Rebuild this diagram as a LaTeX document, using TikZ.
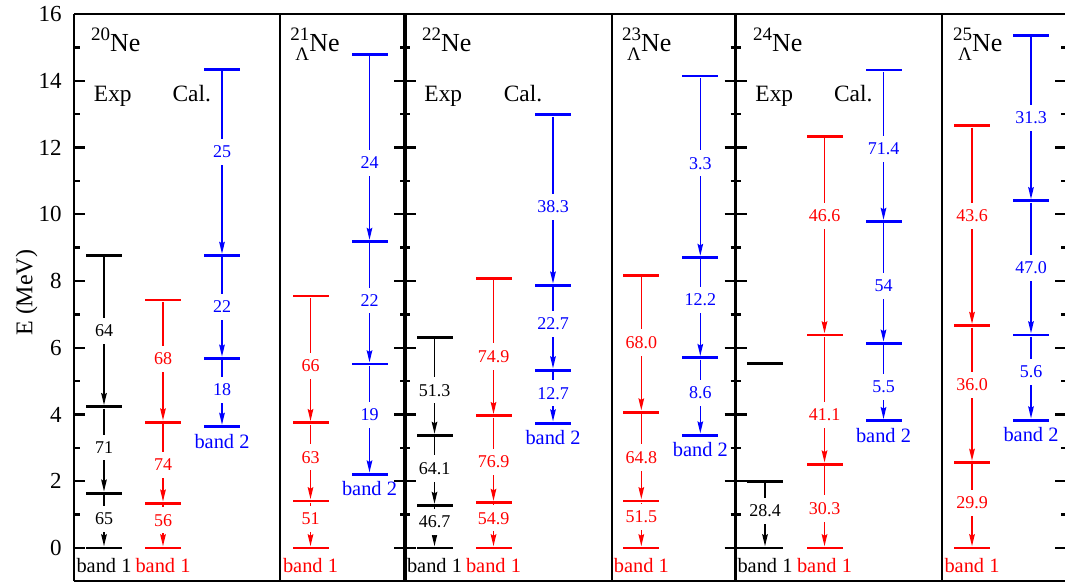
\documentclass[tikz,border=0pt]{standalone}
\usepackage{fontspec}
\setmainfont{Liberation Serif}
\usetikzlibrary{arrows.meta,positioning}

\begin{document}
\begin{tikzpicture}[x=0.5pt, y=16.6875pt,
    lvl/.style = {fill, inner sep=0, minimum width=18pt, minimum height=1.4pt},
    tr/.style = {line width=0.75pt, -{Stealth[length=6pt, width=2.8pt, inset=0.8pt]}},
    num/.style = {fill=white, inner xsep=1pt, inner ysep=3.5pt, font=\fontsize{9}{10}\selectfont},
    bnd/.style = {inner sep=0, font=\fontsize{10.2}{12}\selectfont},
    hd/.style = {anchor=base, inner sep=0, font=\fontsize{11.7}{13}\selectfont},
    nuc/.style = {anchor=base west, inner sep=0, font=\fontsize{13}{15}\selectfont},
    tk/.style = {line width=1.2pt}]
        \useasboundingbox (0,-1.0487) rectangle (1065,16.4195);

        % frame and panels
        \draw[line width=1pt] (74,16) -- (1070,16);
        \draw[line width=1pt] (74,-1) -- (1070,-1);
        \draw[line width=1.3pt] (74,-1) -- (74,16);
        \draw[line width=1.7pt] (405,-1) -- (405,16);
        \draw[line width=1.7pt] (735.7,-1) -- (735.7,16);
        \draw[line width=0.6pt] (280,-1) -- (280,16);
        \draw[line width=0.6pt] (612,-1) -- (612,16);
        \draw[line width=0.6pt] (942,-1) -- (942,16);
        \foreach \e in {0,2,...,16} {
            \draw[tk] (74,\e) -- (85,\e);
            \draw[tk] (394,\e) -- (416,\e);
            \draw[tk] (724.7,\e) -- (746.7,\e);
            \draw[tk] (1055,\e) -- (1070,\e);
            \node[anchor=east, inner sep=0, font=\fontsize{11.5}{13}\selectfont] (y\e) at (62,\e) {\e};
        }
        \foreach \e in {1,3,...,15} {
            \draw[tk] (74,\e) -- (80,\e);
            \draw[tk] (400,\e) -- (410,\e);
            \draw[tk] (730.7,\e) -- (740.7,\e);
            \draw[tk] (1061,\e) -- (1070,\e);
        }
        \node[rotate=90, font=\fontsize{12}{14}\selectfont] (ylab) at (26.5,7.65) {E (MeV)};

        % headings
        \node[nuc] (t20) at (90.7,14.87) {{\fontsize{9.5}{10}\selectfont\raisebox{5.8pt}{20}}Ne};
        \node[nuc] (t21) at (290,14.87) {{\fontsize{9.5}{10}\selectfont\rlap{\hspace{2.5pt}\raisebox{-4.15pt}{Λ}}\raisebox{5.8pt}{21}}Ne};
        \node[nuc] (t22) at (421.7,14.87) {{\fontsize{9.5}{10}\selectfont\raisebox{5.8pt}{22}}Ne};
        \node[nuc] (t23) at (621.7,14.87) {{\fontsize{9.5}{10}\selectfont\rlap{\hspace{2.5pt}\raisebox{-4.15pt}{Λ}}\raisebox{5.8pt}{23}}Ne};
        \node[nuc] (t24) at (752.7,14.87) {{\fontsize{9.5}{10}\selectfont\raisebox{5.8pt}{24}}Ne};
        \node[nuc] (t25) at (952.7,14.87) {{\fontsize{9.5}{10}\selectfont\rlap{\hspace{2.5pt}\raisebox{-4.15pt}{Λ}}\raisebox{5.8pt}{25}}Ne};
        \node[hd] (x20) at (112.8,13.37) {Exp};
        \node[hd] (c20) at (191.8,13.37) {Cal.};
        \node[hd] (x22) at (443.3,13.37) {Exp};
        \node[hd] (c22) at (523,13.37) {Cal.};
        \node[hd] (x24) at (774.3,13.37) {Exp};
        \node[hd] (c24) at (853.3,13.37) {Cal.};

        % 20Ne
        \node[lvl] (e20-0) at (104,0) {};
        \node[lvl] (e20-1) at (104,1.64) {};
        \node[lvl] (e20-2) at (104,4.23) {};
        \node[lvl] (e20-3) at (104,8.77) {};
        \node[lvl, red] (r20-0) at (163,0) {};
        \node[lvl, red] (r20-1) at (163,1.34) {};
        \node[lvl, red] (r20-2) at (163,3.77) {};
        \node[lvl, red] (r20-3) at (163,7.43) {};
        \node[lvl, blue] (b20-0) at (222,3.64) {};
        \node[lvl, blue] (b20-1) at (222,5.68) {};
        \node[lvl, blue] (b20-2) at (222,8.76) {};
        \node[lvl, blue] (b20-3) at (222,14.34) {};
        \draw[tr] (e20-3) -- node[num, pos=.5] {64} (e20-2);
        \draw[tr] (e20-2) -- node[num, pos=.47] {71} (e20-1);
        \draw[tr] (e20-1) -- node[num, pos=.46] {65} (e20-0);
        \draw[tr, red] (r20-3) -- node[num, pos=.48] {68} (r20-2);
        \draw[tr, red] (r20-2) -- node[num, pos=.53] {74} (r20-1);
        \draw[tr, red] (r20-1) -- node[num, pos=.37] {56} (r20-0);
        \draw[tr, blue] (b20-3) -- node[num, pos=.44] {25} (b20-2);
        \draw[tr, blue] (b20-2) -- node[num, pos=.5] {22} (b20-1);
        \draw[tr, blue] (b20-1) -- node[num, pos=.46] {18} (b20-0);
        \node[bnd, below=4.3pt of e20-0] (n20) {band 1};
        \node[bnd, red, below=4.3pt of r20-0] (m20) {band 1};
        \node[bnd, blue, below=2.7pt of b20-0] (s20) {band 2};

        % 21Ne (Lambda)
        \node[lvl, red] (r21-0) at (310.5,0) {};
        \node[lvl, red] (r21-1) at (310.5,1.41) {};
        \node[lvl, red] (r21-2) at (310.5,3.75) {};
        \node[lvl, red] (r21-3) at (310.5,7.55) {};
        \node[lvl, blue] (b21-0) at (369.5,2.21) {};
        \node[lvl, blue] (b21-1) at (369.5,5.51) {};
        \node[lvl, blue] (b21-2) at (369.5,9.18) {};
        \node[lvl, blue] (b21-3) at (369.5,14.79) {};
        \draw[tr, red] (r21-3) -- node[num, pos=.55] {66} (r21-2);
        \draw[tr, red] (r21-2) -- node[num, pos=.44] {63} (r21-1);
        \draw[tr, red] (r21-1) -- node[num, pos=.37] {51} (r21-0);
        \draw[tr, blue] (b21-3) -- node[num, pos=.58] {24} (b21-2);
        \draw[tr, blue] (b21-2) -- node[num, pos=.48] {22} (b21-1);
        \draw[tr, blue] (b21-1) -- node[num, pos=.46] {19} (b21-0);
        \node[bnd, red, below=4.3pt of r21-0] (m21) {band 1};
        \node[bnd, blue, below=2.7pt of b21-0] (s21) {band 2};

        % 22Ne
        \node[lvl] (e22-0) at (434.5,0) {};
        \node[lvl] (e22-1) at (434.5,1.27) {};
        \node[lvl] (e22-2) at (434.5,3.37) {};
        \node[lvl] (e22-3) at (434.5,6.31) {};
        \node[lvl, red] (r22-0) at (493.5,0) {};
        \node[lvl, red] (r22-1) at (493.5,1.36) {};
        \node[lvl, red] (r22-2) at (493.5,3.96) {};
        \node[lvl, red] (r22-3) at (493.5,8.08) {};
        \node[lvl, blue] (b22-0) at (553,3.74) {};
        \node[lvl, blue] (b22-1) at (553,5.33) {};
        \node[lvl, blue] (b22-2) at (553,7.87) {};
        \node[lvl, blue] (b22-3) at (553,12.98) {};
        \draw[tr] (e22-3) -- node[num, pos=.54] {51.3} (e22-2);
        \draw[tr] (e22-2) -- node[num, pos=.47] {64.1} (e22-1);
        \draw[tr] (e22-1) -- node[num, pos=.38] {46.7} (e22-0);
        \draw[tr, red] (r22-3) -- node[num, pos=.57] {74.9} (r22-2);
        \draw[tr, red] (r22-2) -- node[num, pos=.53] {76.9} (r22-1);
        \draw[tr, red] (r22-1) -- node[num, pos=.33] {54.9} (r22-0);
        \draw[tr, blue] (b22-3) -- node[num, pos=.54] {38.3} (b22-2);
        \draw[tr, blue] (b22-2) -- node[num, pos=.45] {22.7} (b22-1);
        \draw[tr, blue] (b22-1) -- node[num, pos=.43] {12.7} (b22-0);
        \node[bnd, below=4.3pt of e22-0] (n22) {band 1};
        \node[bnd, red, below=4.3pt of r22-0] (m22) {band 1};
        \node[bnd, blue, below=2.7pt of b22-0] (s22) {band 2};

        % 23Ne (Lambda)
        \node[lvl, red] (r23-0) at (641.3,0) {};
        \node[lvl, red] (r23-1) at (641.3,1.41) {};
        \node[lvl, red] (r23-2) at (641.3,4.07) {};
        \node[lvl, red] (r23-3) at (641.3,8.17) {};
        \node[lvl, blue] (b23-0) at (700.3,3.38) {};
        \node[lvl, blue] (b23-1) at (700.3,5.70) {};
        \node[lvl, blue] (b23-2) at (700.3,8.70) {};
        \node[lvl, blue] (b23-3) at (700.3,14.14) {};
        \draw[tr, red] (r23-3) -- node[num, pos=.49] {68.0} (r23-2);
        \draw[tr, red] (r23-2) -- node[num, pos=.51] {64.8} (r23-1);
        \draw[tr, red] (r23-1) -- node[num, pos=.33] {51.5} (r23-0);
        \draw[tr, blue] (b23-3) -- node[num, pos=.48] {3.3} (b23-2);
        \draw[tr, blue] (b23-2) -- node[num, pos=.42] {12.2} (b23-1);
        \draw[tr, blue] (b23-1) -- node[num, pos=.45] {8.6} (b23-0);
        \node[bnd, red, below=4.3pt of r23-0] (m23) {band 1};
        \node[bnd, blue, below=2.7pt of b23-0] (s23) {band 2};

        % 24Ne
        \node[lvl] (e24-0) at (765,0) {};
        \node[lvl] (e24-1) at (765,1.99) {};
        \node[lvl] (e24-2) at (765,5.53) {};
        \node[lvl, red] (r24-0) at (824.5,0) {};
        \node[lvl, red] (r24-1) at (824.5,2.51) {};
        \node[lvl, red] (r24-2) at (824.5,6.38) {};
        \node[lvl, red] (r24-3) at (824.5,12.34) {};
        \node[lvl, blue] (b24-0) at (883.5,3.81) {};
        \node[lvl, blue] (b24-1) at (883.5,6.13) {};
        \node[lvl, blue] (b24-2) at (883.5,9.78) {};
        \node[lvl, blue] (b24-3) at (883.5,14.32) {};
        \draw[tr] (e24-1) -- node[num, pos=.44] {28.4} (e24-0);
        \draw[tr, red] (r24-3) -- node[num, pos=.40] {46.6} (r24-2);
        \draw[tr, red] (r24-2) -- node[num, pos=.62] {41.1} (r24-1);
        \draw[tr, red] (r24-1) -- node[num, pos=.53] {30.3} (r24-0);
        \draw[tr, blue] (b24-3) -- node[num, pos=.52] {71.4} (b24-2);
        \draw[tr, blue] (b24-2) -- node[num, pos=.53] {54} (b24-1);
        \draw[tr, blue] (b24-1) -- node[num, pos=.56] {5.5} (b24-0);
        \node[bnd, below=4.3pt of e24-0] (n24) {band 1};
        \node[bnd, red, below=4.3pt of r24-0] (m24) {band 1};
        \node[bnd, blue, below=2.7pt of b24-0] (s24) {band 2};

        % 25Ne (Lambda)
        \node[lvl, red] (r25-0) at (972,0) {};
        \node[lvl, red] (r25-1) at (972,2.56) {};
        \node[lvl, red] (r25-2) at (972,6.66) {};
        \node[lvl, red] (r25-3) at (972,12.65) {};
        \node[lvl, blue] (b25-0) at (1031,3.83) {};
        \node[lvl, blue] (b25-1) at (1031,6.38) {};
        \node[lvl, blue] (b25-2) at (1031,10.40) {};
        \node[lvl, blue] (b25-3) at (1031,15.36) {};
        \draw[tr, red] (r25-3) -- node[num, pos=.45] {43.6} (r25-2);
        \draw[tr, red] (r25-2) -- node[num, pos=.43] {36.0} (r25-1);
        \draw[tr, red] (r25-1) -- node[num, pos=.47] {29.9} (r25-0);
        \draw[tr, blue] (b25-3) -- node[num, pos=.5] {31.3} (b25-2);
        \draw[tr, blue] (b25-2) -- node[num, pos=.5] {47.0} (b25-1);
        \draw[tr, blue] (b25-1) -- node[num, pos=.43] {5.6} (b25-0);
        \node[bnd, red, below=4.3pt of r25-0] (m25) {band 1};
        \node[bnd, blue, below=2.7pt of b25-0] (s25) {band 2};

    \end{tikzpicture}
\end{document}
